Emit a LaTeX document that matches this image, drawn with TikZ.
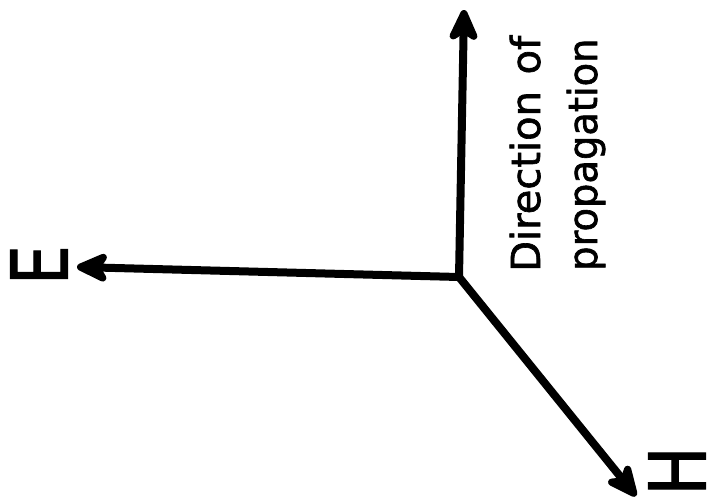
\documentclass[tikz,border=0pt]{standalone}
\usepackage{fontspec}
\setmainfont{DejaVu Sans}
\newfontfamily\heavysans[FakeBold=1.6]{DejaVu Sans}
\usetikzlibrary{arrows.meta}
\begin{document}
\begin{tikzpicture}[x=1pt, y=-1pt,
  vec/.style={line width=8pt, line cap=round,
    -{Stealth[length=40pt, width=36pt, inset=11pt, round]}},
  letter/.style={inner sep=0pt, font=\heavysans\fontsize{78}{90}\selectfont},
  caption/.style={inner sep=0pt, rotate=90, anchor=base west,
    font=\heavysans\fontsize{40}{48}\selectfont}]
  \useasboundingbox (0,0) rectangle (712,499);
  % common origin of the three vectors
  \coordinate (O) at (459,277);
  \coordinate (Ptip) at (464,10);
  \coordinate (Etip) at (77,267);
  \coordinate (Htip) at (636,496);
  \draw[vec] (O) -- (Ptip);
  \draw[vec] (O) -- (Etip);
  \draw[vec] (O) -- (Htip);
  % field labels
  \node[letter, rotate=90] (E) at (39,265) {\scalebox{0.8}[1]{E}};
  \node[letter, rotate=90] (H) at (677,471) {\scalebox{0.84}[1]{H}};
  % propagation caption
  \node[caption] (dir) at (540,272) {Direction\hspace{4pt} of};
  \node[caption] (prop) at (597,271) {\scalebox{0.96}[1]{propagation}};
\end{tikzpicture}
\end{document}
